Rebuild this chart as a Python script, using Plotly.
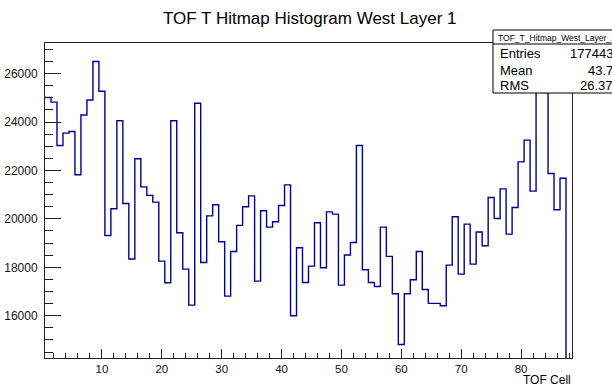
import numpy as np
import plotly.graph_objects as go

# TOF cell numbers and hit counts per cell (west layer 1)
cells = list(range(1, 89))
counts = [
    25010, 24820, 23030, 23540, 23610, 21820, 24290, 24910, 26495, 25270,
    19315, 20415, 24050, 20635, 18340, 22480, 21320, 20970, 20690, 18255,
    17360, 24050, 19425, 17925, 16440, 24775, 18200, 20125, 20580, 19055,
    16810, 18655, 19730, 20500, 20950, 17430, 20335, 19660, 19880, 20555,
    21405, 16000, 18805, 17375, 18050, 19840, 17980, 20290, 20195, 17265,
    18505, 19025, 23030, 17900, 17375, 17210, 19660, 18450, 16910, 14815,
    16910, 17485, 18655, 17085, 16510, 16510, 16415, 18090, 20085, 17720,
    19785, 18130, 19455, 18890, 20885, 20015, 21240, 19370, 20470, 22355,
    23250, 21145, 26650, 25215, 21875, 20375, 21680, 0,
]

title_text = "TOF T Hitmap Histogram West Layer 1"
x_title = "TOF Cell"
stats_name = "TOF_T_Hitmap_West_Layer_1"
stats_rows = [("Entries", "177443"), ("Mean", "43.7"), ("RMS", "26.37")]

W, H = 612, 386
ML, MR, MT, MB = 45, 40, 43, 28
PW, PH = W - ML - MR, H - MT - MB


def px(x):
    return (x - ML) / PW


def py(y):
    return 1 - (y - MT) / PH


# step outline: each bin drawn from its low edge to its high edge
edges = [c - 0.5 for c in cells] + [cells[-1] + 0.5]
step_y = counts + [counts[-1]]

line_col = "#000099"
font = "Liberation Sans, Arial, Helvetica, sans-serif"

fig = go.Figure()
fig.add_trace(go.Scatter(
    x=edges, y=step_y, mode="lines", line_shape="hv",
    line=dict(color=line_col, width=1.4), hoverinfo="skip", showlegend=False,
))

axis_common = dict(
    showgrid=False, zeroline=False, showline=True, mirror=True,
    linecolor="#222222", linewidth=1, ticks="inside", tickcolor="#222222",
    automargin=False,
)

fig.update_xaxes(
    range=[0.5, 88.5], tick0=0, dtick=10, ticklen=9, tickwidth=1,
    tickfont=dict(family=font, size=11.5, color="#111111"),
    minor=dict(dtick=2, tick0=0, ticklen=5, ticks="inside", tickcolor="#222222"),
    **axis_common,
)
fig.update_yaxes(
    range=[14255, 27262], tick0=0, dtick=2000, ticklen=16, tickwidth=1,
    tickformat="d", tickfont=dict(family=font, size=12, color="#111111"),
    minor=dict(dtick=500, tick0=0, ticklen=8, ticks="inside", tickcolor="#222222"),
    ticklabelstandoff=4,
    **axis_common,
)

annotations = [
    dict(text=title_text, xref="paper", yref="paper", x=px(310), y=py(18),
         xanchor="center", yanchor="middle", showarrow=False,
         font=dict(family=font, size=17, color="#000000")),
    dict(text=x_title, xref="paper", yref="paper", x=px(573), y=py(379.5),
         xanchor="right", yanchor="middle", showarrow=False,
         font=dict(family=font, size=12, color="#000000")),
]

# statistics box in the top-right corner
box_l, box_t, box_b, box_r, box_sep = 493, 30, 93, 640, 44
shapes = [
    dict(type="rect", xref="paper", yref="paper", x0=px(box_l), x1=px(box_r),
         y0=py(box_b), y1=py(box_t), fillcolor="white",
         line=dict(color="#000000", width=1), layer="above"),
    dict(type="line", xref="paper", yref="paper", x0=px(box_l), x1=px(box_r),
         y0=py(box_sep), y1=py(box_sep), line=dict(color="#000000", width=1),
         layer="above"),
]
annotations.append(dict(
    text=stats_name, xref="paper", yref="paper", x=px(496), y=py(37.5),
    xanchor="left", yanchor="middle", showarrow=False,
    font=dict(family=font, size=8.5, color="#000000")))
row_y = [53, 70, 86]
for (lab, val), yy in zip(stats_rows, row_y):
    annotations.append(dict(
        text=lab, xref="paper", yref="paper", x=px(498), y=py(yy),
        xanchor="left", yanchor="middle", showarrow=False,
        font=dict(family=font, size=13, color="#000000")))
    annotations.append(dict(
        text=val, xref="paper", yref="paper", x=px(615), y=py(yy),
        xanchor="right", yanchor="middle", showarrow=False,
        font=dict(family=font, size=13, color="#000000")))

fig.update_layout(
    width=W, height=H, margin=dict(l=ML, r=MR, t=MT, b=MB, pad=0),
    paper_bgcolor="white", plot_bgcolor="white",
    shapes=shapes, annotations=annotations,
)

fig.write_html("out.html")
